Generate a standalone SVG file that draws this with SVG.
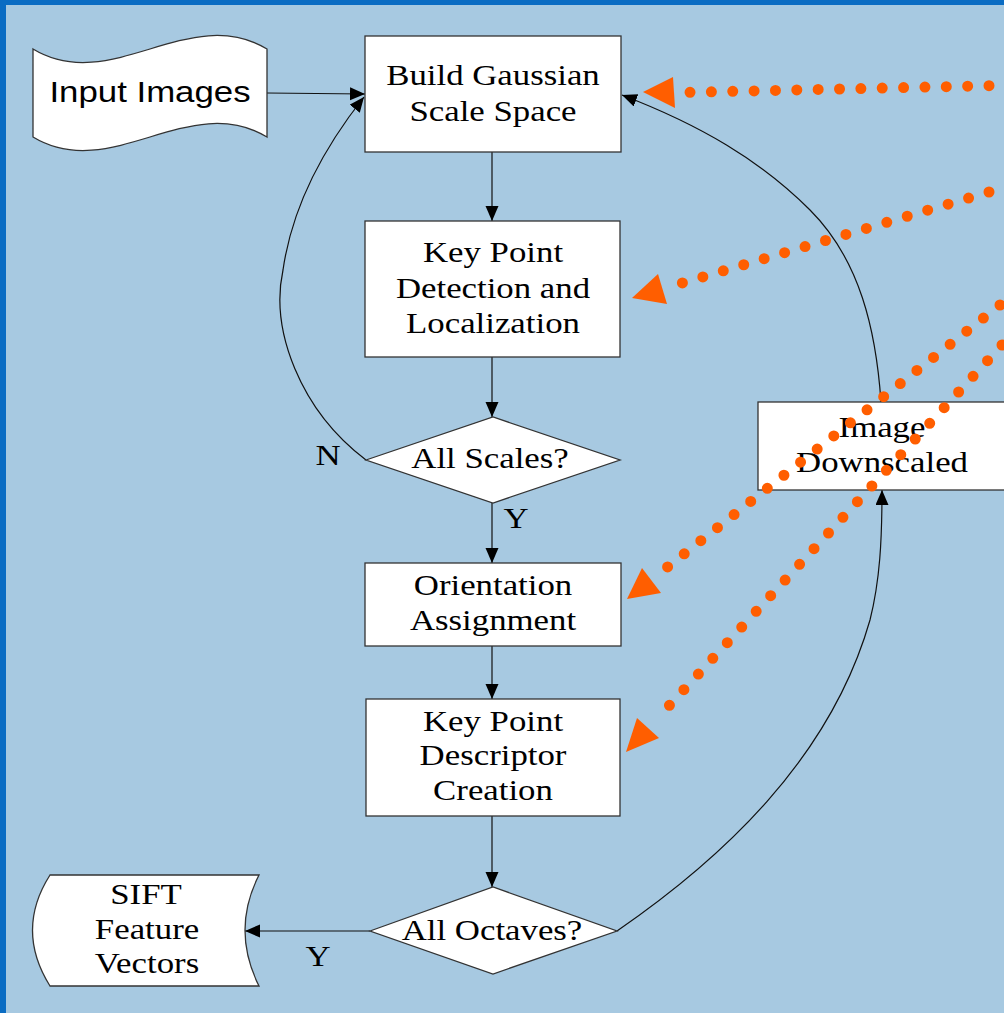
<svg xmlns="http://www.w3.org/2000/svg" width="1004" height="1013" viewBox="0 0 1004 1013">
<style>
.bg{fill:#a7c9e1}
.frame{fill:#0a6cc3}
.node{fill:#ffffff;stroke:#333333;stroke-width:1.3}
.t{font-family:"Liberation Serif","Times New Roman",serif;font-size:29px;fill:#000;text-anchor:middle}
.s{font-family:"Liberation Sans",Arial,sans-serif;font-size:29px;fill:#000;text-anchor:middle}
.c{fill:none;stroke:#111;stroke-width:1.2}
.dots{fill:none;stroke:#ff5e00;stroke-width:11;stroke-linecap:round}
.ohead{fill:#ff5e00}
</style>
<defs>
<marker id="ah" markerUnits="userSpaceOnUse" markerWidth="16" markerHeight="14" refX="15" refY="6.5" orient="auto">
<path d="M0,0 L15,6.5 L0,13 Z" fill="#000"/>
</marker>
</defs>
<rect class="bg" x="0" y="0" width="1004" height="1013"/>
<rect class="frame" x="0" y="0" width="1004" height="5"/>
<rect class="frame" x="0" y="0" width="6" height="1013"/>

<g id="connectors">
<line class="c" x1="267" y1="93" x2="365" y2="94" marker-end="url(#ah)"/>
<line class="c" x1="492" y1="152" x2="492" y2="221" marker-end="url(#ah)"/>
<line class="c" x1="492" y1="357" x2="492" y2="417" marker-end="url(#ah)"/>
<line class="c" x1="492" y1="503" x2="492" y2="563" marker-end="url(#ah)"/>
<line class="c" x1="492" y1="646" x2="492" y2="699" marker-end="url(#ah)"/>
<line class="c" x1="492" y1="816" x2="492" y2="887" marker-end="url(#ah)"/>
<line class="c" x1="370" y1="931" x2="245" y2="931" marker-end="url(#ah)"/>
<path class="c" d="M366,460 C300,410 270,330 283,270 C293,200 330,140 364,97" marker-end="url(#ah)"/>
<path class="c" d="M617,931 C720,860 830,760 870,620 C880,580 882,540 882,490" marker-end="url(#ah)"/>
<path class="c" d="M881,402 C876,330 860,260 810,210 C760,160 700,125 622,95" marker-end="url(#ah)"/>
<text class="t" transform="translate(328,465) scale(1.2,1)">N</text>
<text class="t" transform="translate(516,528) scale(1.2,1)">Y</text>
<text class="t" transform="translate(318,966) scale(1.2,1)">Y</text>
</g>

<g id="input-images">
<path class="node" d="M33,49 C111,96 189,2 267,49 L267,137 C189,90 111,184 33,137 Z"/>
<text class="s" transform="translate(150,102) scale(1.2,1)">Input Images</text>
</g>

<g id="build-gaussian">
<rect class="node" x="365" y="36" width="256" height="116"/>
<text class="t" transform="translate(493,85) scale(1.2,1)">Build Gaussian</text>
<text class="t" transform="translate(493,121) scale(1.2,1)">Scale Space</text>
</g>

<g id="keypoint-detection">
<rect class="node" x="365" y="221" width="255" height="136"/>
<text class="t" transform="translate(493,262) scale(1.2,1)">Key Point</text>
<text class="t" transform="translate(493,298) scale(1.2,1)">Detection and</text>
<text class="t" transform="translate(493,333) scale(1.2,1)">Localization</text>
</g>

<g id="all-scales">
<polygon class="node" points="366,460 493,417 620,460 493,503"/>
<text class="t" transform="translate(490,468) scale(1.2,1)">All Scales?</text>
</g>

<g id="orientation">
<rect class="node" x="365" y="563" width="256" height="83"/>
<text class="t" transform="translate(493,595) scale(1.2,1)">Orientation</text>
<text class="t" transform="translate(493,630) scale(1.2,1)">Assignment</text>
</g>

<g id="descriptor">
<rect class="node" x="366" y="699" width="254" height="117"/>
<text class="t" transform="translate(493,731) scale(1.2,1)">Key Point</text>
<text class="t" transform="translate(493,765) scale(1.2,1)">Descriptor</text>
<text class="t" transform="translate(493,800) scale(1.2,1)">Creation</text>
</g>

<g id="all-octaves">
<polygon class="node" points="370,931 493,887 617,931 493,974"/>
<text class="t" transform="translate(492,940) scale(1.2,1)">All Octaves?</text>
</g>

<g id="sift-vectors">
<path class="node" d="M50,875 L259,875 Q231,930 259,986 L50,986 Q15,930 50,875 Z"/>
<text class="t" transform="translate(146,904) scale(1.2,1)">SIFT</text>
<text class="t" transform="translate(147,939) scale(1.2,1)">Feature</text>
<text class="t" transform="translate(147,973) scale(1.2,1)">Vectors</text>
</g>

<g id="image-downscaled">
<rect class="node" x="758" y="402" width="248" height="88"/>
<text class="t" transform="translate(882,437) scale(1.2,1)">Image</text>
<text class="t" transform="translate(882,472) scale(1.2,1)">Downscaled</text>
</g>

<g id="orange-arrows">
<path class="dots" d="M989,85.7 L690,92.3" stroke-dasharray="0 21.36"/>
<polygon class="ohead" points="643,92 673,77 675,108"/>
<path class="dots" d="M989,192 L662,289" stroke-dasharray="0 21.32"/>
<polygon class="ohead" points="632,298 658,274 667,304"/>
<path class="dots" d="M1000,305 L651,580" stroke-dasharray="0 21.16"/>
<polygon class="ohead" points="627,599 642,568 661,593"/>
<path class="dots" d="M1002,345 L655,721" stroke-dasharray="0 21.32"/>
<polygon class="ohead" points="626,752 637,718 659,738"/>
</g>
</svg>
